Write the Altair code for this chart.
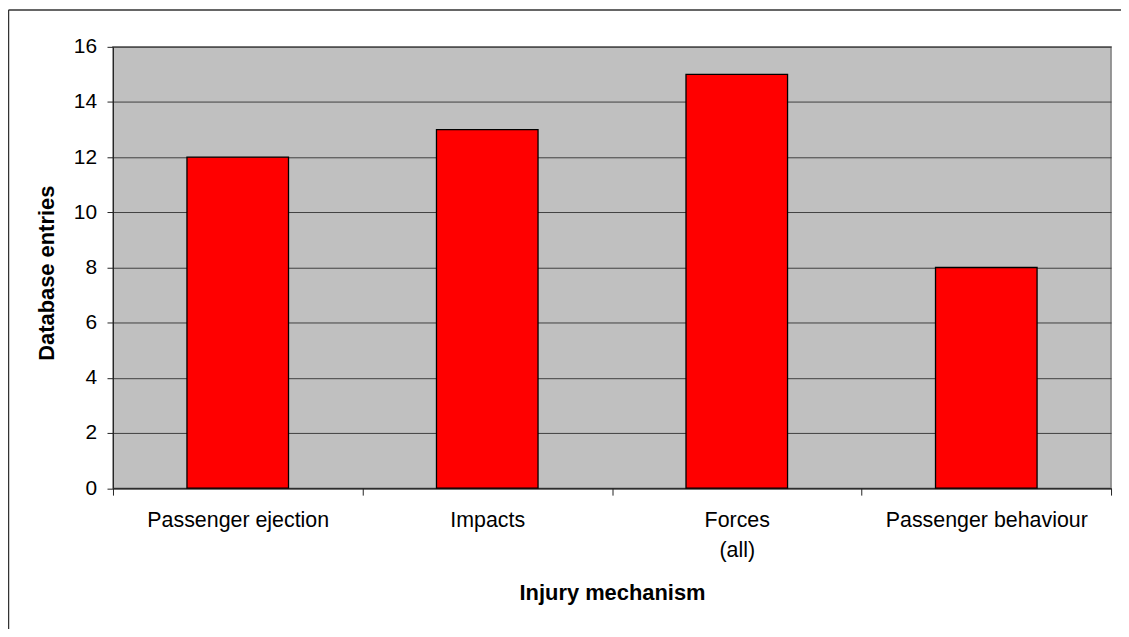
import altair as alt
import pandas as pd

categories = ["Passenger ejection", "Impacts", "Forces (all)", "Passenger behaviour"]
entries = [12, 13, 15, 8]
y_ticks = [0, 2, 4, 6, 8, 10, 12, 14, 16]

df = pd.DataFrame({"mechanism": categories, "entries": entries})
frame_df = pd.DataFrame({"k": [0]})

FONT = "Liberation Sans"

bars = alt.Chart(df).mark_bar(
    color="#FF0000", stroke="#000000", strokeWidth=1.3,
    width=alt.RelativeBandSize(0.407)
).encode(
    x=alt.X(
        "mechanism:N", sort=categories,
        scale=alt.Scale(paddingInner=0, paddingOuter=0),
        axis=alt.Axis(
            title="Injury mechanism", labelAngle=0, tickBand="extent",
            tickSize=7, labelPadding=15, labelFontSize=21.5, labelFont=FONT,
            labelColor="#000000", labelLineHeight=30, labelLimit=0,
            labelBaseline="top",
            labelExpr="datum.value == 'Forces (all)' ? ['Forces', '(all)'] : datum.label",
            domainColor="#222222", tickColor="#222222", domainWidth=1, tickWidth=1,
            grid=False, titleFontSize=22, titleFont=FONT, titleFontWeight="bold",
            titleColor="#000000", titleY=112, titleBaseline="alphabetic", titleLimit=0,
        ),
    ),
    y=alt.Y(
        "entries:Q",
        scale=alt.Scale(domain=[0, 16], nice=False),
        axis=alt.Axis(
            values=y_ticks, title="Database entries", grid=True,
            gridColor="#404040", gridWidth=1, tickSize=6, labelPadding=10.5,
            labelFontSize=21, labelFont=FONT, labelColor="#000000",
            domainColor="#222222", tickColor="#222222", domainWidth=1, tickWidth=1,
            titleFontSize=22, titleFont=FONT, titleFontWeight="bold",
            titleColor="#000000", titleX=-60, titleY=227, titleAngle=-90,
            titleAlign="center", titleBaseline="alphabetic", titleLimit=0,
        ),
    ),
)

# outer chart frame: only its left and top edges fall inside the picture
frame_top = alt.Chart(frame_df).mark_rule(
    stroke="#333333", strokeWidth=1.5
).encode(
    x=alt.value(-105), x2=alt.value(1200), y=alt.value(-37),
)
frame_left = alt.Chart(frame_df).mark_rule(
    stroke="#333333", strokeWidth=1.5
).encode(
    x=alt.value(-105), y=alt.value(-37), y2=alt.value(700),
)

chart = alt.layer(frame_top, frame_left, bars).properties(
    width=1003, height=443.5,
    padding={"left": 105.5, "top": 37.5, "right": 10, "bottom": 140},
    autosize=alt.AutoSizeParams(type="none"),
    background="#FFFFFF",
).configure_view(
    fill="#C0C0C0", stroke="#808080", strokeWidth=1.5
)

chart.save("out.html", embed_options={"renderer": "svg", "actions": False})
